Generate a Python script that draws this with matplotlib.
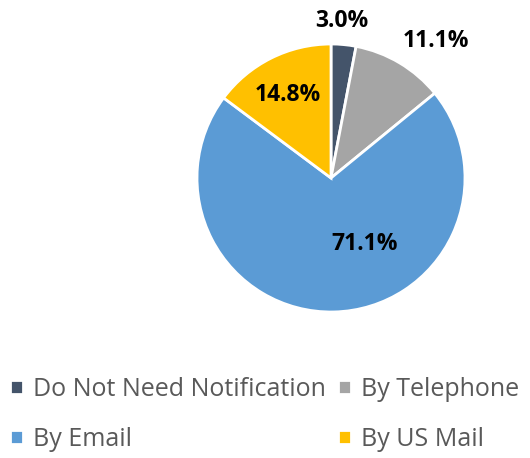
import matplotlib.pyplot as plt

labels = ["Do Not Need Notification", "By Telephone", "By Email", "By US Mail"]
values = [3.0, 11.1, 71.1, 14.8]
colors = ["#44546A", "#A5A5A5", "#5B9BD5", "#FFC000"]

# label positions (x, y) in pie radius units, relative to centre
label_pos = [(0.08, 1.17), (0.78, 1.02), (0.25, -0.49), (-0.32, 0.62)]

fig = plt.figure(figsize=(5.30, 4.58), dpi=100)
ax = fig.add_axes([197 / 530, 1 - 312 / 458, 268 / 530, 268 / 458])

wedges, _ = ax.pie(values, colors=colors, startangle=90, counterclock=False,
                   radius=1.0, wedgeprops=dict(edgecolor="white", linewidth=2))
ax.set_xlim(-1, 1)
ax.set_ylim(-1, 1)
ax.set_aspect("equal")
ax.axis("off")

for v, (x, y) in zip(values, label_pos):
    ax.text(x, y, f"{v:.1f}%", ha="center", va="center", fontsize=16.5,
            fontweight="bold", family="Open Sans", color="black", clip_on=False)

# matplotlib fills legend columns first, so reorder to read row-wise
order = [0, 2, 1, 3]
leg = fig.legend([wedges[i] for i in order], [labels[i] for i in order],
                 loc="upper left", bbox_to_anchor=(10 / 530, 1 - 377 / 458),
                 ncol=2, frameon=False, borderpad=0, borderaxespad=0,
                 handlelength=0.5, handleheight=0.5,
                 handletextpad=0.42, columnspacing=0.5, labelspacing=1.0,
                 prop=dict(family="Open Sans", size=18))
for t in leg.get_texts():
    t.set_color("#595959")

fig.savefig("out.png", dpi=100)
